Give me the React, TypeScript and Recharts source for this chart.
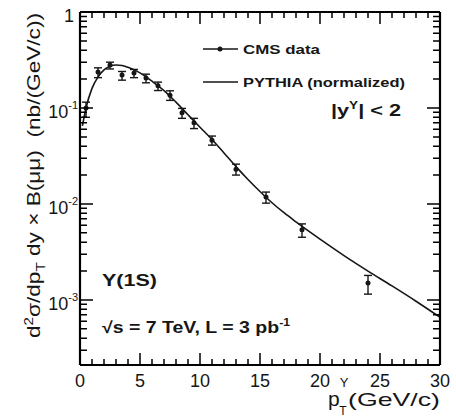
import React from 'react';
import { ComposedChart, Line, Scatter, ErrorBar, XAxis, YAxis, Legend } from 'recharts';

// CMS Upsilon(1S) cross section points
const CMS_PT = [0.5, 1.5, 2.5, 3.5, 4.5, 5.5, 6.5, 7.5, 8.5, 9.5, 11, 13, 15.5, 18.5, 24];
const CMS_VAL = [0.1, 0.237, 0.28, 0.22, 0.232, 0.205, 0.17, 0.136, 0.089, 0.07, 0.046, 0.023, 0.0118, 0.0054, 0.0015];
const CMS_ERR_LO = [0.02, 0.03, 0.025, 0.025, 0.025, 0.022, 0.018, 0.016, 0.011, 0.009, 0.005, 0.003, 0.0016, 0.0009, 0.00035];
const CMS_ERR_HI = [0.015, 0.025, 0.02, 0.02, 0.02, 0.02, 0.016, 0.015, 0.01, 0.008, 0.005, 0.003, 0.0015, 0.0008, 0.0003];

// PYTHIA (normalized) curve
const PYTHIA_PT = [0.2, 0.5, 1, 1.5, 2, 2.5, 3, 3.5, 4, 5, 6, 7, 8, 9, 10, 11, 12, 13, 14, 15, 16, 17, 18, 20, 22, 24, 26, 28, 30];
const PYTHIA_VAL = [0.065, 0.1, 0.16, 0.21, 0.25, 0.272, 0.28, 0.277, 0.265, 0.232, 0.19, 0.152, 0.115, 0.085, 0.063, 0.047, 0.034, 0.0245, 0.018, 0.0135, 0.0103, 0.0081, 0.0065, 0.0043, 0.0029, 0.002, 0.0014, 0.00097, 0.00066];

const X_LABELS = [0, 5, 10, 15, 20, 25, 30];
const Y_LABELS = [1, 0.1, 0.01, 0.001];
const X_MAX = 30;
const Y_MIN = 2.1e-4;

const X_TICKS = Array.from({ length: X_MAX + 1 }, (_, i) => i);
const Y_TICKS = [1e-4, 1e-3, 1e-2, 1e-1]
  .flatMap(d => [1, 2, 3, 4, 5, 6, 7, 8, 9].map(m => m * d))
  .concat([1])
  .filter(v => v >= Y_MIN && v <= 1);

const cmsData = CMS_PT.map((pt, i) => ({ pt, val: CMS_VAL[i], err: [CMS_ERR_LO[i], CMS_ERR_HI[i]] }));
const pythiaData = PYTHIA_PT.map((pt, i) => ({ pt, val: PYTHIA_VAL[i] }));

const INK = '#161616';
const FONT = '"Liberation Sans", Arial, Helvetica, sans-serif';

const W = 456, H = 417;
const MARGIN = { top: 11, right: 15, bottom: 22, left: 20 };
const LEFT_W = 60, BOTTOM_H = 30, EDGE = 1;
// plot box implied by the margins and axis sizes above
const PLOT = {
  left: MARGIN.left + LEFT_W,
  right: W - MARGIN.right - EDGE,
  top: MARGIN.top + EDGE,
  bottom: H - MARGIN.bottom - BOTTOM_H,
};

const isMajorY = (v: number) => Y_LABELS.some(l => Math.abs(l - v) / l < 1e-6);
const isMajorX = (v: number) => X_LABELS.includes(v);

function XLabel({ x, y, payload }: any) {
  if (!isMajorX(payload.value)) return <g />;
  return <text x={x} y={y + 22} textAnchor="middle" fontSize={18} fill={INK}>{payload.value}</text>;
}

function YLabel({ x, y, payload }: any) {
  const v = payload.value;
  if (!isMajorY(v)) return <g />;
  const exp = Math.round(Math.log10(v));
  if (exp === 0) return <text x={x - 6} y={y + 10} textAnchor="end" fontSize={18} fill={INK}>1</text>;
  return (
    <text x={x - 2} y={y + 10} textAnchor="end" fontSize={18} fill={INK}>
      10<tspan fontSize={11} dy={-9}>{exp}</tspan>
    </text>
  );
}

// inward ROOT-style tick marks on all four sides of the frame
function FrameTicks() {
  const px = (v: number) => PLOT.left + (v / X_MAX) * (PLOT.right - PLOT.left);
  const lo = Math.log10(Y_MIN);
  const py = (v: number) => PLOT.bottom - ((Math.log10(v) - lo) / -lo) * (PLOT.bottom - PLOT.top);
  const segs: string[] = [];
  X_TICKS.forEach(v => {
    const len = isMajorX(v) ? 12 : 6;
    const x = px(v);
    segs.push(`M${x},${PLOT.bottom}V${PLOT.bottom - len}`, `M${x},${PLOT.top}V${PLOT.top + len}`);
  });
  Y_TICKS.forEach(v => {
    const len = isMajorY(v) ? 13 : 7;
    const y = py(v);
    segs.push(`M${PLOT.left},${y}H${PLOT.left + len}`, `M${PLOT.right},${y}H${PLOT.right - len}`);
  });
  return <path d={segs.join('')} stroke="#000" strokeWidth={1.5} fill="none" />;
}

function XTitle(props: any) {
  const { viewBox } = props;
  const right = viewBox.x + viewBox.width;
  const base = viewBox.y + 41;
  return (
    <g fill={INK}>
      <text x={right - 112} y={base} fontSize={21}>
        p<tspan fontSize={13} dy={-19}>Υ</tspan>
        <tspan fontSize={12} dx={-9} dy={28}>T</tspan>
      </text>
      <text x={right - 92} y={base} fontSize={19} textLength={92} lengthAdjust="spacingAndGlyphs">(GeV/c)</text>
    </g>
  );
}

function YTitle(props: any) {
  const { viewBox } = props;
  const bx = viewBox.x + 20;
  const by = viewBox.y + viewBox.height - 27;
  return (
    <text
      x={bx} y={by} transform={`rotate(-90 ${bx} ${by})`} fontSize={18} fill={INK}
      textLength={325} lengthAdjust="spacingAndGlyphs"
    >
      d<tspan fontSize={12} dy={-7}>2</tspan>
      <tspan dy={7}>σ/dp</tspan>
      <tspan fontSize={12} dy={5}>T</tspan>
      <tspan dy={-5}>{'\u00a0dy\u00a0×\u00a0B(μμ)\u00a0\u00a0(nb/(GeV/c))'}</tspan>
    </text>
  );
}

function renderLegend(props: any) {
  const items = (props.payload || []).slice().sort((a: any, b: any) =>
    a.value === 'CMS data' ? -1 : b.value === 'CMS data' ? 1 : 0);
  return (
    <svg width={240} height={60} style={{ display: 'block' }}>
      {items.map((e: any, i: number) => {
        const cy = 11 + i * 33;
        const lens = e.value === 'CMS data' ? 77 : 162;
        return (
          <g key={e.value}>
            <line x1={3} y1={cy} x2={38} y2={cy} stroke={INK} strokeWidth={1.5} />
            {e.value === 'CMS data' && <circle cx={20} cy={cy} r={2.5} fill={INK} />}
            <text x={43} y={cy + 5} fontSize={13} fontWeight="bold" fill={INK}
              textLength={lens} lengthAdjust="spacingAndGlyphs" fontFamily={FONT}>{e.value}</text>
          </g>
        );
      })}
    </svg>
  );
}

const frame = { stroke: '#000', strokeWidth: 2.2 };

export default function App() {
  return (
    <div style={{ position: 'absolute', left: 0, top: 0, width: W, height: H, background: '#fff', fontFamily: FONT }}>
      <ComposedChart width={W} height={H} margin={MARGIN}>
        <XAxis
          xAxisId="b" type="number" dataKey="pt" domain={[0, X_MAX]} allowDataOverflow ticks={X_TICKS} interval={0}
          tickLine={false} tickSize={0} tickMargin={0}
          axisLine={frame} tick={<XLabel />} height={BOTTOM_H}
          label={(p: any) => <XTitle {...p} />}
        />
        <XAxis
          xAxisId="t" orientation="top" type="number" domain={[0, X_MAX]} allowDataOverflow
          tickLine={false} tick={false} axisLine={frame} height={EDGE}
        />
        <YAxis
          yAxisId="l" type="number" dataKey="val" scale="log" domain={[Y_MIN, 1]} allowDataOverflow ticks={Y_TICKS} interval={0}
          tickLine={false} tickSize={0} tickMargin={0}
          axisLine={frame} tick={<YLabel />} width={LEFT_W}
          label={(p: any) => <YTitle {...p} />}
        />
        <YAxis
          yAxisId="r" orientation="right" type="number" scale="log" domain={[Y_MIN, 1]} allowDataOverflow
          tickLine={false} tick={false} axisLine={frame} width={EDGE}
        />
        <Line
          xAxisId="b" yAxisId="l" name="PYTHIA (normalized)" data={pythiaData} dataKey="val"
          type="monotone" stroke={INK} strokeWidth={1.6} dot={false} isAnimationActive={false}
        />
        <Scatter
          xAxisId="b" yAxisId="l" name="CMS data" data={cmsData} dataKey="val" fill={INK}
          shape={(p: any) => <circle cx={p.cx} cy={p.cy} r={2.5} fill={INK} />}
          isAnimationActive={false}
        >
          <ErrorBar dataKey="err" direction="y" width={4} stroke={INK} strokeWidth={1.4} isAnimationActive={false} />
        </Scatter>
        <Legend
          layout="vertical" align="center" verticalAlign="middle" content={renderLegend}
          wrapperStyle={{ position: 'absolute', left: 200, top: 38, width: 240, height: 60 }}
        />
      </ComposedChart>
      <svg width={W} height={H} style={{ position: 'absolute', left: 0, top: 0, pointerEvents: 'none' }}>
        <FrameTicks />
        <g fill={INK} fontWeight="bold" fontSize={16}>
          <text x={331} y={116} textLength={70} lengthAdjust="spacingAndGlyphs">
            |y<tspan fontSize={10} dy={-7}>Υ</tspan><tspan dy={7}>| &lt; 2</tspan>
          </text>
          <text x={102} y={286} textLength={55} lengthAdjust="spacingAndGlyphs">Υ(1S)</text>
          <text x={102} y={333} textLength={188} lengthAdjust="spacingAndGlyphs">
            √s = 7 TeV, L = 3 pb<tspan fontSize={10} dy={-7}>-1</tspan>
          </text>
        </g>
      </svg>
    </div>
  );
}
